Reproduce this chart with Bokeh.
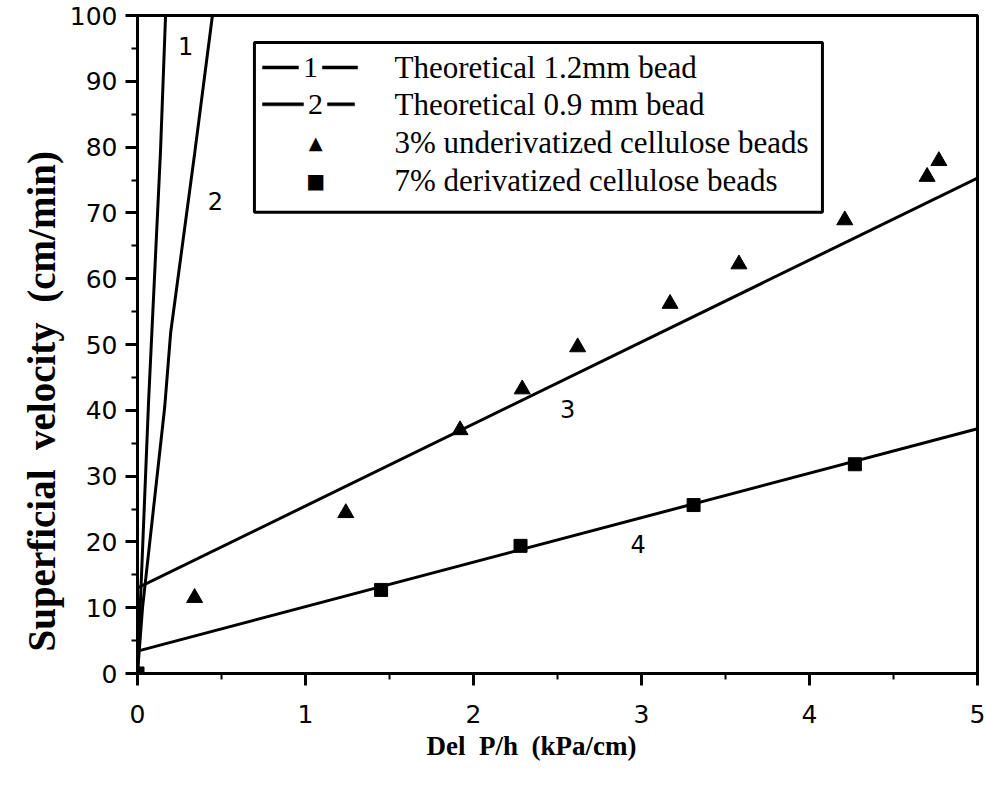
from bokeh.plotting import figure
from bokeh.models import Range1d, FixedTicker, BoxAnnotation, Label, Title
from bokeh.embed import file_html
from bokeh.resources import INLINE

# ---------------- data ----------------
tri_x = [0, 0.34, 1.24, 1.92, 2.29, 2.62, 3.17, 3.58, 4.21, 4.70, 4.77]
tri_y = [0, 11.5, 24.4, 37.0, 43.2, 49.6, 56.2, 62.2, 68.9, 75.5, 77.9]

sq_x = [0, 1.45, 2.28, 3.31, 4.27]
sq_y = [0, 12.7, 19.4, 25.6, 31.8]

line1_x = [0, 0.066, 0.137, 0.167]
line1_y = [0, 41.4, 79.4, 100]

line2_x = [0, 0.03, 0.162, 0.197, 0.34, 0.446]
line2_y = [0, 10, 40.5, 51.7, 79, 100]

line3_x = [0, 5]
line3_y = [13.0, 75.3]

line4_x = [0, 5]
line4_y = [3.4, 37.2]

x_ticks = [0, 1, 2, 3, 4, 5]
x_minor = [0.5, 1.5, 2.5, 3.5, 4.5]
y_ticks = [0, 10, 20, 30, 40, 50, 60, 70, 80, 90, 100]
y_minor = [5, 15, 25, 35, 45, 55, 65, 75, 85, 95]

curve_labels = ["1", "2", "3", "4"]
curve_label_x = [0.286, 0.464, 2.56, 2.98]
curve_label_y = [95.3, 71.8, 40.2, 19.7]

legend_texts = ["Theoretical 1.2mm bead",
                "Theoretical 0.9 mm bead",
                "3% underivatized cellulose beads",
                "7% derivatized cellulose beads"]

NB = "\u00a0"
x_title = "Del" + NB + " P/h" + NB + " (kPa/cm)"
y_title = "Superficial" + NB + " velocity" + NB + " (cm/min)"

# ---------------- figure ----------------
SANS = "DejaVu Sans"
SERIF = "Liberation Serif"

p = figure(width=985, height=784, output_backend="svg", toolbar_location=None,
           x_range=Range1d(0, 5), y_range=Range1d(0, 100),
           min_border_left=137, min_border_right=8, min_border_top=15,
           min_border_bottom=111, background_fill_color="white",
           border_fill_color="white")

p.grid.visible = False
p.outline_line_color = "black"
p.outline_line_width = 3
p.outline_line_alpha = 1.0

for ax in (p.xaxis, p.yaxis):
    ax.axis_line_width = 3
    ax.axis_line_color = "black"
    ax.major_tick_line_width = 3
    ax.major_tick_line_color = "black"
    ax.minor_tick_line_width = 2
    ax.minor_tick_line_color = "black"
    ax.major_tick_in = 0
    ax.major_tick_out = 12
    ax.minor_tick_in = 0
    ax.minor_tick_out = 6
    ax.major_label_text_font = SANS
    ax.major_label_text_font_size = "25px"
    ax.major_label_text_color = "black"

p.xaxis.ticker = FixedTicker(ticks=x_ticks, minor_ticks=x_minor)
p.yaxis.ticker = FixedTicker(ticks=y_ticks, minor_ticks=y_minor)
p.xaxis.major_label_standoff = 19
p.yaxis.major_label_standoff = 8

p.add_layout(Title(text=y_title, align="left", offset=22, standoff=8,
                   text_font=SERIF, text_font_style="bold",
                   text_font_size="39px", text_color="black"), "left")
p.add_layout(Title(text=x_title, align="left", offset=289, standoff=6,
                   text_font=SERIF, text_font_style="bold",
                   text_font_size="27px", text_color="black"), "below")

# ---------------- curves ----------------
for xs, ys in ((line1_x, line1_y), (line2_x, line2_y),
               (line3_x, line3_y), (line4_x, line4_y)):
    p.line(xs, ys, line_color="black", line_width=3)

p.scatter(tri_x, tri_y, marker="triangle", size=16, fill_color="black",
          line_color="black")
p.scatter(sq_x, sq_y, marker="square", size=13, fill_color="black",
          line_color="black")

for t, lx, ly in zip(curve_labels, curve_label_x, curve_label_y):
    p.add_layout(Label(x=lx, y=ly, text=t, text_font=SANS,
                       text_font_size="24px", text_align="center",
                       text_baseline="middle", text_color="black"))

# ---------------- legend (drawn by hand) ----------------
p.add_layout(BoxAnnotation(left=0.696, right=4.077, top=95.9, bottom=70.1,
                           fill_color="white", fill_alpha=1.0,
                           line_color="black", line_alpha=1.0, line_width=3,
                           level="overlay"))
row_y = [92.1, 86.5, 80.7, 74.9]
half = 0.23
segs = [(0, 0.744, 0.958), (0, 1.101, 1.310), (1, 0.744, 0.988), (1, 1.131, 1.292)]
for r, a, b in segs:
    p.add_layout(BoxAnnotation(left=a, right=b, top=row_y[r] + half,
                               bottom=row_y[r] - half, fill_color="black",
                               fill_alpha=1.0, line_color="black",
                               line_alpha=1.0, line_width=0.5,
                               level="overlay"))
for r, t, lx in ((0, "1", 1.030), (1, "2", 1.060)):
    p.add_layout(Label(x=lx, y=row_y[r], text=t, text_font=SERIF,
                       text_font_size="30px", text_align="center",
                       text_baseline="middle", text_color="black",
                       level="overlay"))
p.add_layout(Label(x=1.060, y=row_y[2], text="\u25B2", text_font=SANS,
                   text_font_size="18px", text_align="center",
                   text_baseline="middle", text_color="black", level="overlay"))
p.add_layout(Label(x=1.060, y=row_y[3], text="\u25A0", text_font=SANS,
                   text_font_size="20px", text_align="center",
                   text_baseline="middle", text_color="black", level="overlay"))
for r, t in enumerate(legend_texts):
    p.add_layout(Label(x=1.53, y=row_y[r], text=t, text_font=SERIF,
                       text_font_size="31px", text_align="left",
                       text_baseline="middle", text_color="black",
                       level="overlay"))

open("out.html", "w").write(file_html(p, INLINE))
